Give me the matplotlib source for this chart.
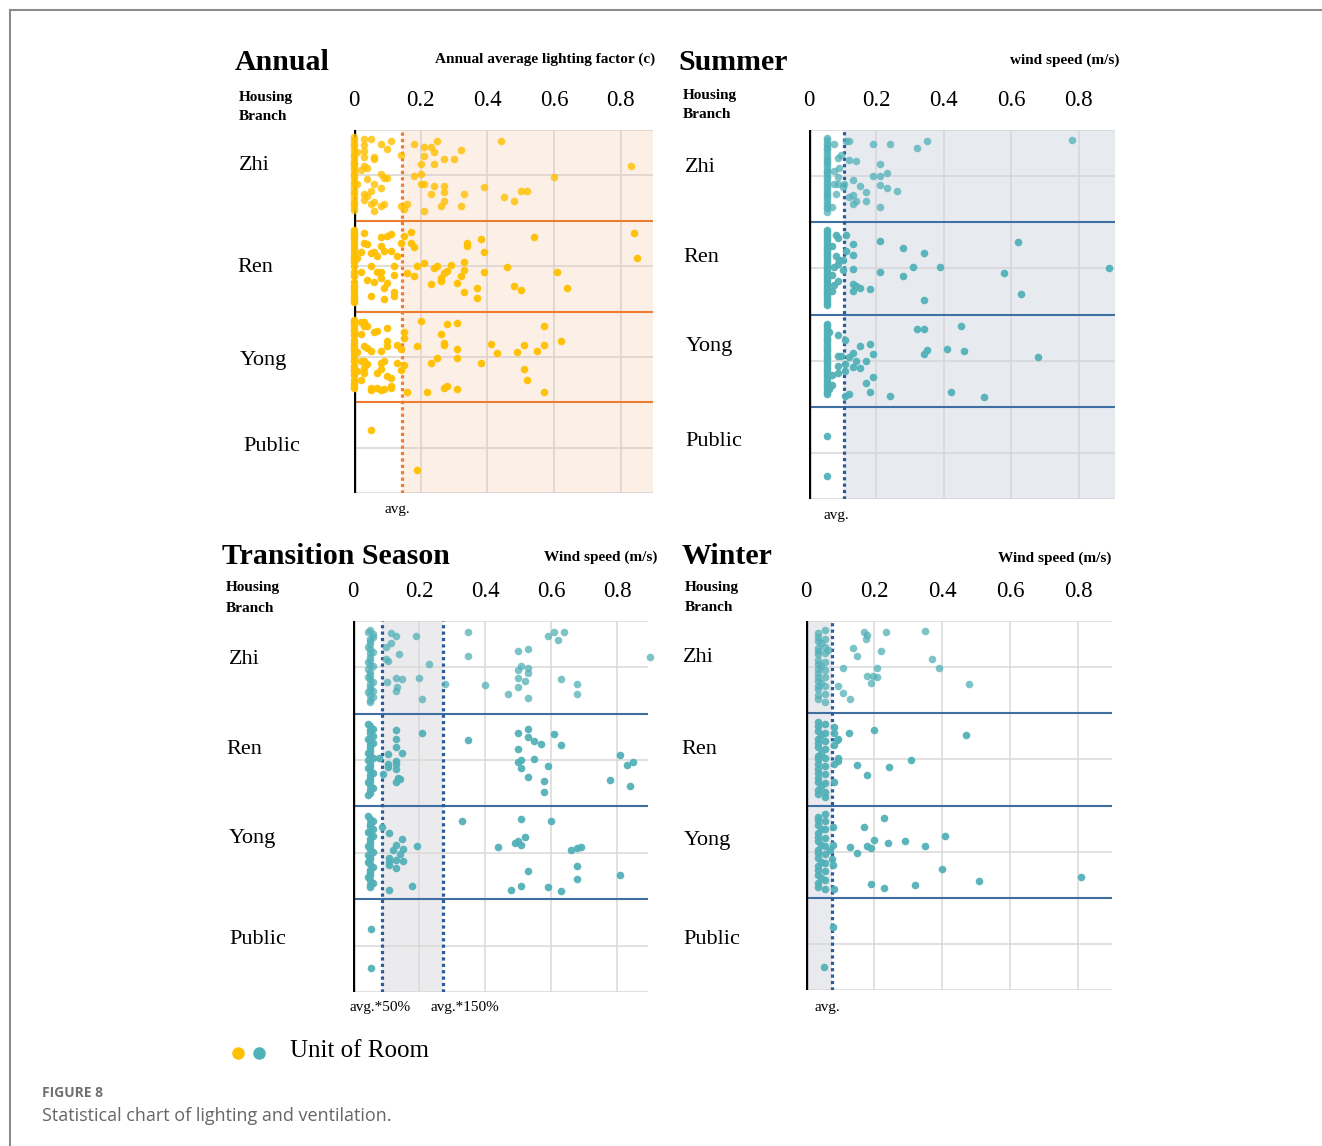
import matplotlib
matplotlib.use("Agg")
import matplotlib.pyplot as plt
from matplotlib.lines import Line2D

W, H = 1322, 1146
SERIF = ['Liberation Serif', 'DejaVu Serif']
SANS = ['Open Sans', 'DejaVu Sans']

rows = ['Zhi', 'Ren', 'Yong', 'Public']
tick_vals = [0, 0.2, 0.4, 0.6, 0.8]
tick_text = ['0', '0.2', '0.4', '0.6', '0.8']

# ---- data: (value, jitter within row 0..1) ----
annual_zhi = [
    (0.0, 0.08), (0.0, 0.11), (0.0, 0.15), (0.0, 0.18), (0.0, 0.22), (0.0, 0.26), (0.0, 0.29),
    (0.0, 0.33), (0.0, 0.36), (0.0, 0.38), (0.0, 0.41), (0.0, 0.44), (0.0, 0.48), (0.0, 0.50),
    (0.0, 0.53), (0.0, 0.57), (0.0, 0.60), (0.0, 0.64), (0.0, 0.68), (0.0, 0.71), (0.0, 0.75),
    (0.0, 0.79), (0.0, 0.82), (0.0, 0.85), (0.0, 0.88),
    (0.03, 0.10), (0.05, 0.10), (0.08, 0.15), (0.11, 0.12), (0.10, 0.21), (0.03, 0.17),
    (0.03, 0.23), (0.01, 0.24), (0.06, 0.30), (0.06, 0.32), (0.03, 0.30), (0.03, 0.40),
    (0.04, 0.42), (0.02, 0.44), (0.08, 0.48), (0.09, 0.53), (0.10, 0.53), (0.04, 0.54),
    (0.06, 0.59), (0.01, 0.60), (0.08, 0.64), (0.05, 0.67), (0.03, 0.71), (0.04, 0.73),
    (0.03, 0.77), (0.05, 0.81), (0.06, 0.79), (0.09, 0.81), (0.08, 0.84), (0.06, 0.89),
    (0.14, 0.27), (0.14, 0.84), (0.16, 0.81), (0.15, 0.87), (0.18, 0.15), (0.21, 0.19),
    (0.23, 0.19), (0.25, 0.12), (0.24, 0.24), (0.21, 0.29), (0.27, 0.32), (0.30, 0.32),
    (0.32, 0.22), (0.20, 0.37), (0.24, 0.38), (0.18, 0.51), (0.20, 0.48), (0.20, 0.60),
    (0.21, 0.60), (0.24, 0.62), (0.27, 0.62), (0.27, 0.68), (0.23, 0.70), (0.33, 0.70),
    (0.39, 0.63), (0.27, 0.78), (0.26, 0.84), (0.32, 0.84), (0.21, 0.89), (0.44, 0.12),
    (0.45, 0.74), (0.48, 0.78), (0.50, 0.67), (0.52, 0.67), (0.60, 0.52), (0.83, 0.40),
]
annual_ren = [
    (0.0, 0.10), (0.0, 0.13), (0.0, 0.15), (0.0, 0.18), (0.0, 0.21), (0.0, 0.26), (0.0, 0.30),
    (0.0, 0.34), (0.0, 0.39), (0.0, 0.42), (0.0, 0.45), (0.0, 0.50), (0.0, 0.56), (0.0, 0.61),
    (0.0, 0.67), (0.0, 0.72), (0.0, 0.75), (0.0, 0.78), (0.0, 0.83), (0.0, 0.86), (0.0, 0.89),
    (0.03, 0.14), (0.08, 0.18), (0.10, 0.17), (0.11, 0.15), (0.03, 0.25), (0.04, 0.26),
    (0.06, 0.34), (0.05, 0.36), (0.08, 0.28), (0.09, 0.33), (0.11, 0.33), (0.07, 0.39),
    (0.02, 0.34), (0.01, 0.41), (0.02, 0.56), (0.05, 0.50), (0.07, 0.57), (0.08, 0.56),
    (0.12, 0.50), (0.13, 0.39), (0.12, 0.60), (0.08, 0.63), (0.04, 0.65), (0.06, 0.67),
    (0.10, 0.69), (0.09, 0.74), (0.12, 0.78), (0.12, 0.83), (0.05, 0.83), (0.09, 0.86),
    (0.14, 0.25), (0.15, 0.17), (0.17, 0.12), (0.17, 0.25), (0.18, 0.29), (0.16, 0.58),
    (0.18, 0.61), (0.19, 0.50), (0.21, 0.47), (0.24, 0.52), (0.25, 0.50), (0.27, 0.58),
    (0.28, 0.55), (0.29, 0.49), (0.26, 0.63), (0.26, 0.66), (0.23, 0.70), (0.31, 0.69),
    (0.32, 0.61), (0.33, 0.54), (0.33, 0.45), (0.33, 0.78), (0.34, 0.25), (0.34, 0.28),
    (0.38, 0.20), (0.39, 0.34), (0.39, 0.56), (0.37, 0.74), (0.37, 0.85), (0.46, 0.51),
    (0.48, 0.72), (0.50, 0.76), (0.54, 0.18), (0.61, 0.56), (0.64, 0.74), (0.84, 0.14),
    (0.85, 0.41),
]
annual_yong = [
    (0.0, 0.09), (0.0, 0.12), (0.0, 0.15), (0.0, 0.19), (0.0, 0.22), (0.0, 0.26), (0.0, 0.31),
    (0.0, 0.35), (0.0, 0.38), (0.0, 0.41), (0.0, 0.44), (0.0, 0.48), (0.0, 0.52), (0.0, 0.55),
    (0.0, 0.60), (0.0, 0.63), (0.0, 0.66), (0.0, 0.70), (0.0, 0.75), (0.0, 0.79), (0.0, 0.82),
    (0.0, 0.84),
    (0.02, 0.12), (0.03, 0.12), (0.03, 0.16), (0.04, 0.16), (0.06, 0.23), (0.07, 0.22),
    (0.10, 0.18), (0.02, 0.25), (0.03, 0.38), (0.04, 0.40), (0.05, 0.43), (0.08, 0.43),
    (0.10, 0.38), (0.10, 0.33), (0.01, 0.45), (0.02, 0.55), (0.03, 0.55), (0.04, 0.58),
    (0.08, 0.57), (0.09, 0.55), (0.03, 0.62), (0.01, 0.66), (0.08, 0.63), (0.03, 0.68),
    (0.07, 0.68), (0.10, 0.71), (0.11, 0.73), (0.02, 0.75), (0.05, 0.84), (0.05, 0.87),
    (0.07, 0.84), (0.08, 0.86), (0.09, 0.85), (0.11, 0.82), (0.11, 0.84), (0.13, 0.37),
    (0.14, 0.41), (0.13, 0.57), (0.14, 0.64), (0.15, 0.23), (0.15, 0.29), (0.15, 0.59),
    (0.16, 0.89), (0.19, 0.38), (0.20, 0.10), (0.22, 0.89), (0.23, 0.57), (0.25, 0.51),
    (0.26, 0.25), (0.27, 0.35), (0.27, 0.37), (0.28, 0.14), (0.28, 0.82), (0.27, 0.84),
    (0.31, 0.13), (0.31, 0.41), (0.31, 0.51), (0.31, 0.85), (0.38, 0.57), (0.41, 0.36),
    (0.43, 0.46), (0.49, 0.45), (0.51, 0.37), (0.51, 0.63), (0.52, 0.76), (0.55, 0.43),
    (0.57, 0.16), (0.57, 0.37), (0.57, 0.89), (0.62, 0.32),
]
annual_public = [(0.05, 0.31), (0.19, 0.75)]

summer_zhi = [
    (0.052, 0.09), (0.052, 0.11), (0.052, 0.14), (0.052, 0.16), (0.052, 0.19), (0.052, 0.21),
    (0.052, 0.24), (0.052, 0.27), (0.052, 0.30), (0.052, 0.32), (0.052, 0.35), (0.052, 0.37),
    (0.052, 0.40), (0.052, 0.43), (0.052, 0.46), (0.052, 0.48), (0.052, 0.51), (0.052, 0.53),
    (0.052, 0.56), (0.052, 0.59), (0.052, 0.62), (0.052, 0.64), (0.052, 0.67), (0.052, 0.69),
    (0.052, 0.72), (0.052, 0.74), (0.052, 0.77), (0.052, 0.80), (0.052, 0.83), (0.052, 0.85),
    (0.052, 0.89),
    (0.075, 0.15), (0.085, 0.30), (0.095, 0.27), (0.075, 0.44), (0.09, 0.41), (0.085, 0.51),
    (0.075, 0.59), (0.085, 0.59), (0.08, 0.69), (0.10, 0.62), (0.067, 0.83), (0.104, 0.59),
    (0.11, 0.12), (0.12, 0.12), (0.12, 0.32), (0.14, 0.34), (0.13, 0.54), (0.15, 0.61),
    (0.13, 0.70), (0.12, 0.73), (0.14, 0.77), (0.13, 0.80), (0.17, 0.67), (0.17, 0.77),
    (0.19, 0.15), (0.19, 0.50), (0.21, 0.50), (0.21, 0.37), (0.23, 0.47), (0.21, 0.60),
    (0.23, 0.63), (0.26, 0.66), (0.21, 0.83), (0.24, 0.15), (0.32, 0.20), (0.35, 0.12),
    (0.78, 0.11),
]
summer_ren = [
    (0.052, 0.08), (0.052, 0.11), (0.052, 0.14), (0.052, 0.17), (0.052, 0.19), (0.052, 0.22),
    (0.052, 0.25), (0.052, 0.28), (0.052, 0.30), (0.052, 0.33), (0.052, 0.36), (0.052, 0.39),
    (0.052, 0.41), (0.052, 0.44), (0.052, 0.46), (0.052, 0.49), (0.052, 0.52), (0.052, 0.55),
    (0.052, 0.57), (0.052, 0.60), (0.052, 0.63), (0.052, 0.66), (0.052, 0.68), (0.052, 0.71),
    (0.052, 0.74), (0.052, 0.77), (0.052, 0.79), (0.052, 0.82), (0.052, 0.84), (0.052, 0.87),
    (0.052, 0.90),
    (0.067, 0.26), (0.08, 0.14), (0.085, 0.17), (0.08, 0.37), (0.085, 0.45), (0.075, 0.48),
    (0.09, 0.41), (0.067, 0.57), (0.085, 0.64), (0.075, 0.68), (0.067, 0.75), (0.10, 0.41),
    (0.10, 0.52), (0.11, 0.14), (0.11, 0.31), (0.13, 0.24), (0.13, 0.35), (0.13, 0.51),
    (0.13, 0.67), (0.13, 0.74), (0.14, 0.69), (0.15, 0.71), (0.18, 0.72), (0.21, 0.20),
    (0.21, 0.54), (0.28, 0.28), (0.28, 0.58), (0.31, 0.49), (0.34, 0.33), (0.34, 0.84),
    (0.39, 0.48), (0.58, 0.55), (0.62, 0.21), (0.63, 0.78), (0.89, 0.50),
]
summer_yong = [
    (0.052, 0.10), (0.052, 0.13), (0.052, 0.16), (0.052, 0.18), (0.052, 0.21), (0.052, 0.24),
    (0.052, 0.27), (0.052, 0.29), (0.052, 0.32), (0.052, 0.35), (0.052, 0.37), (0.052, 0.40),
    (0.052, 0.43), (0.052, 0.46), (0.052, 0.48), (0.052, 0.51), (0.052, 0.54), (0.052, 0.57),
    (0.052, 0.59), (0.052, 0.62), (0.052, 0.64), (0.052, 0.67), (0.052, 0.70), (0.052, 0.73),
    (0.052, 0.75), (0.052, 0.78), (0.052, 0.81), (0.052, 0.84), (0.052, 0.86),
    (0.06, 0.19), (0.087, 0.22), (0.106, 0.28), (0.087, 0.45), (0.095, 0.45), (0.087, 0.56),
    (0.087, 0.63), (0.067, 0.66), (0.067, 0.76), (0.06, 0.81), (0.106, 0.54), (0.106, 0.61),
    (0.106, 0.88), (0.12, 0.86), (0.12, 0.46), (0.13, 0.42), (0.13, 0.57), (0.14, 0.50),
    (0.15, 0.34), (0.15, 0.58), (0.17, 0.50), (0.18, 0.32), (0.19, 0.43), (0.19, 0.68),
    (0.17, 0.74), (0.18, 0.84), (0.24, 0.88), (0.32, 0.16), (0.34, 0.16), (0.35, 0.38),
    (0.34, 0.43), (0.41, 0.37), (0.45, 0.13), (0.46, 0.40), (0.42, 0.84), (0.52, 0.89),
    (0.68, 0.46),
]
summer_public = [(0.052, 0.32), (0.052, 0.75)]

transition_zhi = [
    (0.045, 0.12), (0.06, 0.17), (0.052, 0.22), (0.045, 0.28), (0.06, 0.33), (0.052, 0.39),
    (0.045, 0.44), (0.06, 0.49), (0.052, 0.55), (0.045, 0.60), (0.06, 0.66), (0.052, 0.71),
    (0.045, 0.77), (0.06, 0.82), (0.052, 0.87), (0.06, 0.14), (0.045, 0.52), (0.06, 0.75),
    (0.052, 0.10), (0.052, 0.19), (0.052, 0.25), (0.052, 0.30), (0.052, 0.35), (0.052, 0.42),
    (0.052, 0.47), (0.052, 0.58), (0.052, 0.63), (0.052, 0.68), (0.052, 0.74), (0.052, 0.80),
    (0.052, 0.85),
    (0.115, 0.13), (0.13, 0.16), (0.115, 0.24), (0.10, 0.28), (0.19, 0.16), (0.14, 0.36),
    (0.10, 0.41), (0.107, 0.43), (0.23, 0.46), (0.13, 0.61), (0.15, 0.63), (0.20, 0.61),
    (0.104, 0.66), (0.134, 0.71), (0.13, 0.76), (0.21, 0.84), (0.28, 0.68), (0.35, 0.12),
    (0.35, 0.38), (0.40, 0.69), (0.47, 0.79), (0.50, 0.32), (0.53, 0.30), (0.50, 0.53),
    (0.51, 0.48), (0.53, 0.51), (0.53, 0.56), (0.50, 0.61), (0.52, 0.65), (0.50, 0.71),
    (0.53, 0.83), (0.59, 0.16), (0.61, 0.12), (0.64, 0.12), (0.62, 0.21), (0.63, 0.62),
    (0.68, 0.68), (0.68, 0.79), (0.90, 0.39),
]
transition_ren = [
    (0.045, 0.11), (0.06, 0.16), (0.052, 0.21), (0.045, 0.27), (0.06, 0.32), (0.052, 0.37),
    (0.045, 0.42), (0.06, 0.48), (0.052, 0.53), (0.045, 0.58), (0.06, 0.64), (0.052, 0.69),
    (0.045, 0.74), (0.06, 0.80), (0.052, 0.85), (0.045, 0.88), (0.06, 0.24), (0.045, 0.50),
    (0.052, 0.13), (0.052, 0.18), (0.052, 0.29), (0.052, 0.34), (0.052, 0.40), (0.052, 0.45),
    (0.052, 0.56), (0.052, 0.61), (0.052, 0.66), (0.052, 0.72), (0.052, 0.77), (0.052, 0.82),
    (0.079, 0.48), (0.092, 0.65), (0.105, 0.43), (0.105, 0.54), (0.105, 0.57), (0.13, 0.17),
    (0.13, 0.27), (0.13, 0.36), (0.15, 0.42), (0.13, 0.51), (0.13, 0.54), (0.13, 0.60),
    (0.135, 0.69), (0.142, 0.70), (0.13, 0.74), (0.21, 0.21), (0.35, 0.28), (0.50, 0.21),
    (0.53, 0.16), (0.53, 0.25), (0.55, 0.29), (0.57, 0.33), (0.50, 0.38), (0.61, 0.22),
    (0.63, 0.34), (0.50, 0.52), (0.51, 0.50), (0.55, 0.49), (0.59, 0.56), (0.51, 0.58),
    (0.53, 0.68), (0.58, 0.73), (0.58, 0.84), (0.78, 0.71), (0.81, 0.45), (0.83, 0.55),
    (0.85, 0.52), (0.84, 0.78),
]
transition_yong = [
    (0.045, 0.10), (0.06, 0.16), (0.052, 0.21), (0.045, 0.27), (0.06, 0.32), (0.052, 0.38),
    (0.045, 0.43), (0.06, 0.49), (0.052, 0.54), (0.045, 0.60), (0.06, 0.65), (0.052, 0.71),
    (0.045, 0.76), (0.06, 0.82), (0.052, 0.87), (0.06, 0.24), (0.045, 0.52),
    (0.052, 0.13), (0.052, 0.19), (0.052, 0.29), (0.052, 0.35), (0.052, 0.41), (0.052, 0.46),
    (0.052, 0.57), (0.052, 0.62), (0.052, 0.68), (0.052, 0.74), (0.052, 0.79), (0.052, 0.85),
    (0.089, 0.22), (0.11, 0.29), (0.15, 0.35), (0.13, 0.42), (0.122, 0.47), (0.152, 0.46),
    (0.142, 0.51), (0.193, 0.43), (0.11, 0.55), (0.11, 0.60), (0.11, 0.63), (0.13, 0.58),
    (0.152, 0.59), (0.13, 0.66), (0.11, 0.90), (0.18, 0.86), (0.33, 0.16), (0.44, 0.44),
    (0.49, 0.39), (0.50, 0.37), (0.51, 0.41), (0.52, 0.33), (0.51, 0.13), (0.60, 0.16),
    (0.53, 0.70), (0.51, 0.86), (0.48, 0.90), (0.59, 0.87), (0.63, 0.91), (0.66, 0.47),
    (0.68, 0.45), (0.69, 0.44), (0.68, 0.64), (0.68, 0.78), (0.81, 0.74),
]
transition_public = [(0.055, 0.32), (0.055, 0.74)]

winter_zhi = [
    (0.035, 0.13), (0.035, 0.22), (0.035, 0.29), (0.035, 0.36), (0.035, 0.47), (0.035, 0.56),
    (0.035, 0.65), (0.035, 0.74), (0.035, 0.85), (0.055, 0.10), (0.055, 0.19), (0.055, 0.28),
    (0.055, 0.35), (0.055, 0.44), (0.055, 0.53), (0.055, 0.61), (0.055, 0.70), (0.055, 0.79),
    (0.055, 0.88), (0.035, 0.17), (0.035, 0.33), (0.035, 0.42), (0.035, 0.52), (0.035, 0.61),
    (0.035, 0.70), (0.035, 0.80), (0.045, 0.24), (0.045, 0.49), (0.045, 0.67),
    (0.066, 0.31), (0.095, 0.70), (0.11, 0.51), (0.11, 0.78), (0.13, 0.85), (0.137, 0.29),
    (0.15, 0.38), (0.17, 0.12), (0.18, 0.15), (0.177, 0.20), (0.22, 0.32), (0.235, 0.12),
    (0.18, 0.60), (0.196, 0.60), (0.21, 0.61), (0.21, 0.51), (0.19, 0.67), (0.35, 0.11),
    (0.37, 0.41), (0.39, 0.51), (0.48, 0.68),
]
winter_ren = [
    (0.035, 0.10), (0.035, 0.19), (0.035, 0.28), (0.035, 0.37), (0.035, 0.46), (0.035, 0.55),
    (0.035, 0.65), (0.035, 0.74), (0.035, 0.83), (0.035, 0.88), (0.055, 0.12), (0.055, 0.21),
    (0.055, 0.30), (0.055, 0.39), (0.055, 0.48), (0.055, 0.57), (0.055, 0.66), (0.055, 0.76),
    (0.055, 0.85), (0.055, 0.91), (0.035, 0.14), (0.035, 0.32), (0.035, 0.50), (0.035, 0.60),
    (0.035, 0.70), (0.045, 0.24), (0.045, 0.43), (0.045, 0.79),
    (0.083, 0.15), (0.083, 0.21), (0.09, 0.29), (0.095, 0.28), (0.083, 0.34), (0.095, 0.49),
    (0.095, 0.52), (0.083, 0.55), (0.083, 0.74), (0.125, 0.21), (0.20, 0.18), (0.15, 0.56),
    (0.18, 0.67), (0.244, 0.58), (0.31, 0.51), (0.47, 0.24),
]
winter_yong = [
    (0.035, 0.12), (0.035, 0.21), (0.035, 0.30), (0.035, 0.39), (0.035, 0.48), (0.035, 0.57),
    (0.035, 0.66), (0.035, 0.75), (0.035, 0.84), (0.035, 0.88), (0.055, 0.09), (0.055, 0.17),
    (0.055, 0.26), (0.055, 0.35), (0.055, 0.44), (0.055, 0.53), (0.055, 0.62), (0.055, 0.71),
    (0.055, 0.81), (0.055, 0.90), (0.035, 0.16), (0.035, 0.34), (0.035, 0.52), (0.035, 0.70),
    (0.045, 0.25), (0.045, 0.43), (0.045, 0.61), (0.045, 0.79),
    (0.08, 0.23), (0.08, 0.43), (0.07, 0.48), (0.075, 0.58), (0.08, 0.64), (0.083, 0.90),
    (0.13, 0.45), (0.15, 0.51), (0.17, 0.23), (0.18, 0.44), (0.19, 0.46), (0.20, 0.37),
    (0.23, 0.14), (0.24, 0.41), (0.29, 0.39), (0.35, 0.44), (0.41, 0.33), (0.40, 0.69),
    (0.19, 0.85), (0.23, 0.89), (0.32, 0.86), (0.51, 0.82), (0.81, 0.77),
]
winter_public = [(0.08, 0.32), (0.054, 0.75)]

# reference lines
annual_avg = 0.144
summer_avg = 0.104
transition_low, transition_high = 0.087, 0.272
winter_avg = 0.075

YELLOW = '#FFC000'
TEAL = '#52B1B8'


def px(x, y):
    return x / W, 1 - y / H


def make_ax(fig, left, top, right, bottom, xmax):
    ax = fig.add_axes([left / W, 1 - bottom / H, (right - left) / W, (bottom - top) / H])
    ax.set_xlim(0, xmax)
    ax.set_ylim(4, 0)
    for s in ax.spines.values():
        s.set_visible(False)
    ax.xaxis.tick_top()
    ax.set_xticks(tick_vals)
    ax.set_xticklabels(tick_text, family=SERIF, fontsize=16.5)
    ax.tick_params(axis='x', length=0, pad=14)
    ax.set_yticks([])
    return ax


def draw_rows(ax, data, color, sep_color, grid_color, zhi_alpha):
    for i in range(4):
        ax.axhline(i + 0.5, color=grid_color, lw=1.1, zorder=1)
    ax.axhline(0, color=grid_color, lw=1.1, zorder=1)
    ax.axhline(4, color=grid_color, lw=1.1, zorder=1)
    for v in tick_vals[1:]:
        ax.axvline(v, color=grid_color, lw=1.1, zorder=1)
    for i in (1, 2, 3):
        ax.axhline(i, color=sep_color, lw=1.5, zorder=2)
    ax.axvline(0, color='black', lw=2.4, zorder=3.5)
    for i, pts in enumerate(data):
        xs = [p[0] for p in pts]
        ys = [i + p[1] for p in pts]
        ax.scatter(xs, ys, s=30, color=color, alpha=zhi_alpha if i == 0 else 0.95,
                   linewidths=0, zorder=4, clip_on=False)


def labels(fig, title, tx, ty, axis_title, ax_right, ay, hb_x, hb_y, row_xy):
    fig.text(*px(tx, ty), title, family=SERIF, fontsize=21.5, fontweight='bold', va='center')
    fig.text(*px(ax_right, ay), axis_title, family=SERIF, fontsize=11, fontweight='bold',
             ha='right', va='center')
    fig.text(*px(hb_x, hb_y), 'Housing', family=SERIF, fontsize=11, fontweight='bold', va='center')
    fig.text(*px(hb_x, hb_y + 20), 'Branch', family=SERIF, fontsize=11, fontweight='bold', va='center')
    for name, (x, y) in zip(rows, row_xy):
        fig.text(*px(x, y), name, family=SERIF, fontsize=16, va='center')


fig = plt.figure(figsize=(W / 100, H / 100), dpi=100)

# Annual
ax = make_ax(fig, 354, 130, 653, 493, 0.897)
ax.axvspan(annual_avg, 0.897, color='#FCEFE6', zorder=0, lw=0)
draw_rows(ax, [annual_zhi, annual_ren, annual_yong, annual_public], YELLOW, '#ED7D31', '#DCD2CB', 0.8)
ax.axvline(annual_avg, color='#ED7D31', lw=2.3, ls=(0, (1, 1)), zorder=3)
labels(fig, 'Annual', 235, 62, 'Annual average lighting factor (c)', 655, 59, 239, 97,
       [(239, 165), (237, 267), (240, 361), (243, 446)])
fig.text(*px(397, 509), 'avg.', family=SERIF, fontsize=11, ha='center', va='center')

# Summer
ax = make_ax(fig, 809, 130, 1115, 499, 0.908)
ax.axvspan(summer_avg, 0.908, color='#E7EBF0', zorder=0, lw=0)
draw_rows(ax, [summer_zhi, summer_ren, summer_yong, summer_public], TEAL, '#3F6FA2', '#D4D6D9', 0.75)
ax.axvline(summer_avg, color='#2D5A98', lw=2.3, ls=(0, (1, 1)), zorder=3)
labels(fig, 'Summer', 678, 62, 'wind speed (m/s)', 1119, 60, 683, 95,
       [(685, 167), (683, 258), (686, 347), (685, 441)])
fig.text(*px(836, 515), 'avg.', family=SERIF, fontsize=11, ha='center', va='center')

# Transition season
ax = make_ax(fig, 353, 621, 648, 992, 0.894)
ax.axvspan(transition_low, transition_high, color='#EBEBEE', zorder=0, lw=0)
draw_rows(ax, [transition_zhi, transition_ren, transition_yong, transition_public], TEAL,
          '#3F6FA2', '#D9D9D9', 0.75)
ax.axvline(transition_low, color='#2D5A98', lw=2.3, ls=(0, (1, 1)), zorder=3)
ax.axvline(transition_high, color='#2D5A98', lw=2.3, ls=(0, (1, 1)), zorder=3)
labels(fig, 'Transition Season', 222, 557, 'Wind speed (m/s)', 657, 557, 226, 588,
       [(229, 659), (226, 749), (229, 839), (229, 940)])
fig.text(*px(380, 1008), 'avg.*50%', family=SERIF, fontsize=11, ha='center', va='center')
fig.text(*px(465, 1008), 'avg.*150%', family=SERIF, fontsize=11, ha='center', va='center')

# Winter
ax = make_ax(fig, 806, 621, 1112, 990, 0.90)
ax.axvspan(0, winter_avg, color='#E9EAEE', zorder=0, lw=0)
draw_rows(ax, [winter_zhi, winter_ren, winter_yong, winter_public], TEAL, '#3F6FA2', '#D9D9D9', 0.75)
ax.axvline(winter_avg, color='#2D5A98', lw=2.3, ls=(0, (1, 1)), zorder=3)
labels(fig, 'Winter', 682, 557, 'Wind speed (m/s)', 1111, 558, 685, 587,
       [(683, 658), (681, 749), (684, 841), (683, 940)])
fig.text(*px(827, 1007), 'avg.', family=SERIF, fontsize=11, ha='center', va='center')

# legend
fig.add_artist(Line2D([238 / W], [1 - 1053 / H], marker='o', ms=8, color=YELLOW, lw=0))
fig.add_artist(Line2D([259 / W], [1 - 1053 / H], marker='o', ms=8, color=TEAL, lw=0))
fig.text(*px(290, 1051), 'Unit of Room', family=SERIF, fontsize=18, va='center')

# caption and frame
fig.text(*px(42, 1093), 'FIGURE 8', family=SANS, fontsize=10, fontweight='bold',
         color='#707070', va='center')
fig.text(*px(42, 1116), 'Statistical chart of lighting and ventilation.', family=SANS,
         fontsize=13, color='#666666', va='center')
fig.add_artist(Line2D([10 / W, 1], [1 - 10 / H, 1 - 10 / H], color='#8C8C8C', lw=1.5))
fig.add_artist(Line2D([10 / W, 10 / W], [1 - 10 / H, 0], color='#8C8C8C', lw=1.5))

fig.savefig('out.png', dpi=100)
